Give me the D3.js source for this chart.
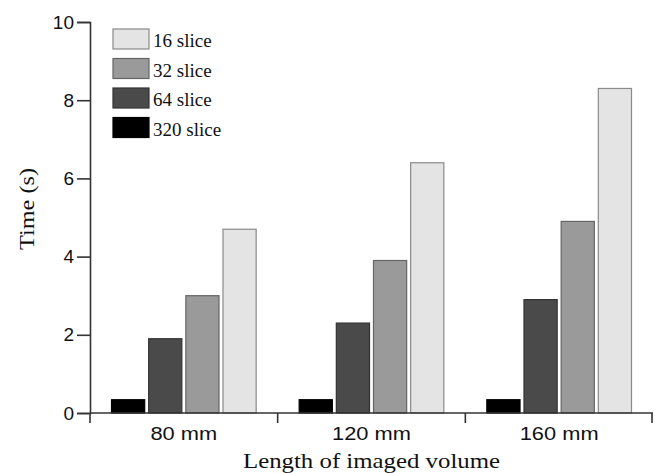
<!DOCTYPE html>
<html>
<head>
<meta charset="utf-8">
<script src="https://cdn.jsdelivr.net/npm/d3@7"></script>
<style>
  body { margin: 0; background: #fff; }
  svg { display: block; }
</style>
</head>
<body>
<svg id="chart" width="655" height="473"></svg>
<script>
// data
var lengths = ["80 mm", "120 mm", "160 mm"];
var series = ["320 slice", "64 slice", "32 slice", "16 slice"];
var slice320 = [0.34, 0.34, 0.34];
var slice64 = [1.9, 2.3, 2.9];
var slice32 = [3.0, 3.9, 4.9];
var slice16 = [4.7, 6.4, 8.3];
var yTicks = [0, 2, 4, 6, 8, 10];
var legendOrder = ["16 slice", "32 slice", "64 slice", "320 slice"];

var values = {
  "320 slice": slice320,
  "64 slice": slice64,
  "32 slice": slice32,
  "16 slice": slice16
};

var fills = {
  "16 slice": "#e4e4e4",
  "32 slice": "#9a9a9a",
  "64 slice": "#4a4a4a",
  "320 slice": "#000000"
};
var strokes = {
  "16 slice": "#8a8a8a",
  "32 slice": "#666666",
  "64 slice": "#333333",
  "320 slice": "#000000"
};

var svg = d3.select("#chart");
var margin = { left: 90, right: 2, top: 22, bottom: 60 };
var width = 655, height = 473;

var x = d3.scaleBand()
  .domain(lengths)
  .range([margin.left, width - margin.right])
  .paddingInner(0)
  .paddingOuter(0);

var inner = d3.scaleBand()
  .domain(series)
  .range([21, x.bandwidth() - 21])
  .paddingInner(0.08)
  .paddingOuter(0);

var y = d3.scaleLinear()
  .domain([0, 10])
  .range([height - margin.bottom, margin.top]);

var axisColor = "#333";
var sans = "'Liberation Sans', Arial, sans-serif";
var serif = "'Liberation Serif', 'Times New Roman', serif";

// bars
var groups = svg.append("g")
  .selectAll("g")
  .data(lengths)
  .enter()
  .append("g")
  .attr("transform", d => `translate(${x(d)},0)`);

groups.selectAll("rect")
  .data((d, i) => series.map(s => ({ s: s, v: values[s][i] })))
  .enter()
  .append("rect")
  .attr("x", d => inner(d.s) + 0.5)
  .attr("width", inner.bandwidth() - 1)
  .attr("y", d => y(d.v))
  .attr("height", d => y(0) - y(d.v))
  .attr("fill", d => fills[d.s])
  .attr("stroke", d => strokes[d.s])
  .attr("stroke-width", 1.2);

// y axis
var yAxis = svg.append("g")
  .attr("transform", `translate(${margin.left},0)`)
  .call(d3.axisLeft(y).tickValues(yTicks).tickSize(13).tickPadding(3).tickFormat(d3.format("d")));

yAxis.select(".domain").attr("stroke", axisColor).attr("stroke-width", 1.6);
yAxis.selectAll(".tick line").attr("stroke", axisColor).attr("stroke-width", 1.6);
yAxis.selectAll(".tick text")
  .attr("fill", "#111")
  .style("font-family", sans)
  .style("font-size", "19px");

// x axis
var xAxis = svg.append("g")
  .attr("transform", `translate(0,${y(0)})`);

xAxis.append("line")
  .attr("x1", margin.left)
  .attr("x2", width - margin.right)
  .attr("stroke", axisColor)
  .attr("stroke-width", 1.6);

var boundaries = lengths.map(d => x(d)).concat([x(lengths[lengths.length - 1]) + x.bandwidth() - 1]);
xAxis.selectAll(".xtick")
  .data(boundaries)
  .enter()
  .append("line")
  .attr("x1", d => d)
  .attr("x2", d => d)
  .attr("y1", 0)
  .attr("y2", 10)
  .attr("stroke", axisColor)
  .attr("stroke-width", 1.6);

// the source image is a bit stretched sideways, so widen the labels
xAxis.selectAll(".xlabel")
  .data(lengths)
  .enter()
  .append("text")
  .attr("transform", d => `translate(${x(d) + x.bandwidth() / 2},27) scale(1.15,1)`)
  .attr("text-anchor", "middle")
  .attr("fill", "#111")
  .style("font-family", sans)
  .style("font-size", "19px")
  .text(d => d);

// axis titles
svg.append("text")
  .attr("x", (margin.left + width - margin.right) / 2)
  .attr("y", 468)
  .attr("text-anchor", "middle")
  .attr("textLength", 257)
  .attr("lengthAdjust", "spacingAndGlyphs")
  .attr("fill", "#111")
  .style("font-family", serif)
  .style("font-size", "22px")
  .text("Length of imaged volume");

svg.append("text")
  .attr("transform", "translate(34,209) rotate(-90)")
  .attr("text-anchor", "middle")
  .attr("textLength", 82)
  .attr("lengthAdjust", "spacingAndGlyphs")
  .attr("fill", "#111")
  .style("font-family", serif)
  .style("font-size", "21px")
  .text("Time (s)");

// legend
var legend = svg.append("g")
  .attr("transform", "translate(113,29)");

var item = legend.selectAll("g")
  .data(legendOrder)
  .enter()
  .append("g")
  .attr("transform", (d, i) => `translate(0,${i * 29.5})`);

item.append("rect")
  .attr("width", 36)
  .attr("height", 20)
  .attr("fill", d => fills[d])
  .attr("stroke", d => strokes[d])
  .attr("stroke-width", 1.2);

item.append("text")
  .attr("x", 40)
  .attr("y", 18)
  .attr("fill", "#111")
  .style("font-family", serif)
  .style("font-size", "19px")
  .text(d => d);
</script>
</body>
</html>
